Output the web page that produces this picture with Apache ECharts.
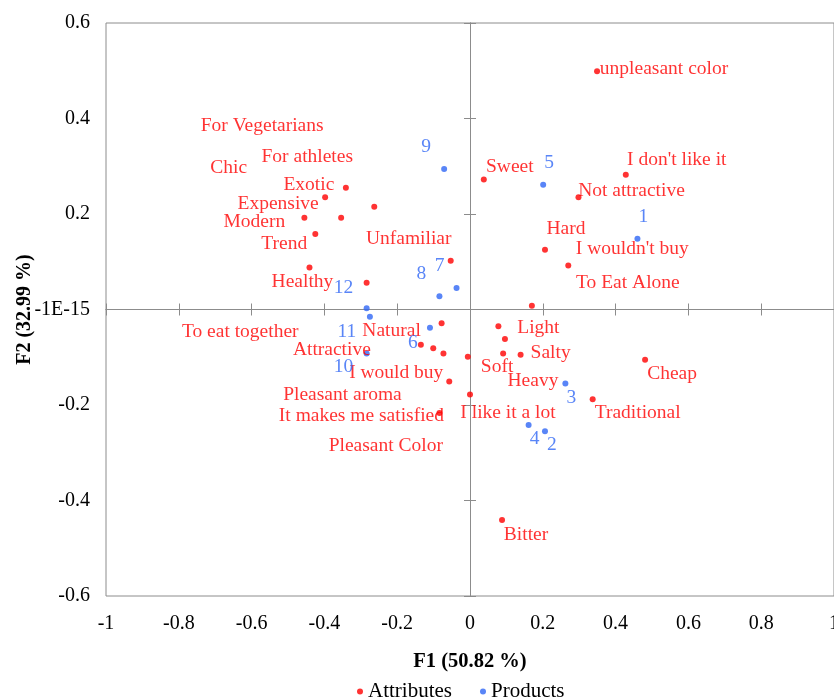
<!DOCTYPE html>
<html>
<head>
<meta charset="utf-8">
<title>F1 / F2 map</title>
<script src="https://cdn.jsdelivr.net/npm/echarts@6/dist/echarts.min.js"></script>
<style>
  html, body { margin: 0; padding: 0; background: #fff; }
  #chart { width: 834px; height: 698px; }
</style>
</head>
<body>
<div id="chart"></div>
<script>
// attributes (red)
const attrNames = [
  'unpleasant color', "I don't like it", 'Not attractive', 'Sweet', 'Hard', "I wouldn't buy", 'To Eat Alone',
  'For Vegetarians', 'Chic', 'For athletes', 'Exotic', 'Expensive', 'Modern', 'Trend', 'Unfamiliar', 'Healthy',
  'To eat together', 'Natural', 'Attractive', 'I would buy', 'Pleasant aroma', 'It makes me satisfied', 'Pleasant Color',
  'Light', 'Salty', 'Soft', 'Heavy', 'I like it a lot', 'Cheap', 'Traditional', 'Bitter'
];
const attrF1 = [
  0.349, 0.428, 0.298, 0.038, 0.206, 0.270, 0.170,
  -0.354, -0.284, -0.263, -0.341, -0.398, -0.455, -0.425, -0.053, -0.441,
  -0.101, -0.078, -0.135, -0.057, -0.073, -0.084, -0.006,
  0.078, 0.139, 0.091, 0.096, 0.000, 0.481, 0.337, 0.088
];
const attrF2 = [
  0.499, 0.282, 0.235, 0.272, 0.125, 0.092, 0.008,
  0.192, 0.056, 0.215, 0.255, 0.235, 0.192, 0.158, 0.102, 0.088,
  -0.081, -0.029, -0.074, -0.151, -0.092, -0.217, -0.099,
  -0.035, -0.095, -0.092, -0.062, -0.178, -0.105, -0.188, -0.441
];

// products (blue)
const prodNames = ['1', '2', '3', '4', '5', '6', '7', '8', '9', '10', '11', '12'];
const prodF1 = [0.460, 0.206, 0.262, 0.161, 0.201, -0.110, -0.037, -0.084, -0.071, -0.284, -0.275, -0.284];
const prodF2 = [0.148, -0.255, -0.155, -0.242, 0.261, -0.038, 0.045, 0.028, 0.294, -0.092, -0.015, 0.0025];

// label placement (px shift of label centre from its point)
const labelShift = {
  'unpleasant color': [67, -2], "I don't like it": [51, -15], 'Not attractive': [53, -6],
  'Sweet': [26, -13], 'Hard': [21, -21], "I wouldn't buy": [64, -17], 'To Eat Alone': [96, -23],
  'For Vegetarians': [-79, -92], 'Chic': [-138, -115], 'For athletes': [-67, -50],
  'Exotic': [-37, -3], 'Expensive': [-47, 7], 'Modern': [-50, 4], 'Trend': [-31, 10],
  'Unfamiliar': [-42, -22], 'Healthy': [-7, 14],
  'To eat together': [-193, -16], 'Natural': [-50, 8], 'Attractive': [-89, 5], 'I would buy': [-53, -9],
  'Pleasant aroma': [-101, 41], 'It makes me satisfied': [-78, 3], 'Pleasant Color': [-82, 89],
  'Light': [40, 2], 'Salty': [30, -2], 'Soft': [-6, 13], 'Heavy': [28, 42], 'I like it a lot': [38, 18],
  'Cheap': [27, 14], 'Traditional': [45, 14], 'Bitter': [24, 15],
  '1': [6, -22], '2': [7, 14], '3': [6, 14], '4': [6, 14], '5': [6, -22], '6': [-17, 15],
  '7': [-17, -22], '8': [-18, -22], '9': [-18, -22], '10': [-23, 13], '11': [-23, 15], '12': [-23, -20]
};

const FONT = "'Liberation Serif', 'Times New Roman', serif";
const RED = '#ff0000';
const BLUE = '#2f66f5';
const GREY = '#8c8c8c';

function points(names, xs, ys) {
  return names.map((n, i) => ({
    name: n,
    value: [xs[i], ys[i]],
    label: { offset: labelShift[n] || [0, 0] }
  }));
}

const gridBox = { left: 106, right: 0, top: 23, bottom: 102, outerBoundsMode: 'none', containLabel: false };

// axes crossing at zero: one set of ticks each side
function zeroAxis(dim, gridIndex, position) {
  const isX = dim === 'x';
  return {
    gridIndex: gridIndex,
    type: 'value',
    position: position,
    min: isX ? -1 : -0.6,
    max: isX ? 1 : 0.6,
    interval: 0.2,
    axisLine: { show: true, onZero: true, lineStyle: { color: GREY, width: 1 } },
    axisTick: { show: true, inside: true, length: 6, lineStyle: { color: GREY } },
    axisLabel: { show: false },
    splitLine: { show: false }
  };
}

const chart = echarts.init(document.getElementById('chart'));
chart.setOption({
  animation: false,
  textStyle: { fontFamily: FONT },
  grid: [
    Object.assign({ show: true, borderColor: GREY, borderWidth: 1 }, gridBox),
    Object.assign({ show: false }, gridBox)
  ],
  xAxis: [
    {
      gridIndex: 0, type: 'value', position: 'bottom', min: -1, max: 1, interval: 0.2,
      axisLine: { show: false, onZero: false },
      axisTick: { show: false },
      splitLine: { show: false },
      axisLabel: { color: '#000', fontSize: 20, fontFamily: FONT, margin: 18 },
      name: 'F1 (50.82 %)', nameLocation: 'middle', nameGap: 55, nameMoveOverlap: false,
      nameTextStyle: { color: '#000', fontSize: 20.5, fontWeight: 'bold', fontFamily: FONT }
    },
    zeroAxis('x', 0, 'top'),
    zeroAxis('x', 1, 'bottom')
  ],
  yAxis: [
    {
      gridIndex: 0, type: 'value', position: 'left', min: -0.6, max: 0.6, interval: 0.2,
      axisLine: { show: false, onZero: false },
      axisTick: { show: false },
      splitLine: { show: false },
      axisLabel: {
        color: '#000', fontSize: 20, fontFamily: FONT, margin: 16,
        formatter: v => (Math.abs(v) < 1e-9 ? '-1E-15' : String(+v.toFixed(1)))
      },
      name: 'F2 (32.99 %)', nameLocation: 'middle', nameGap: 71, nameMoveOverlap: false,
      nameTextStyle: { color: '#000', fontSize: 20, fontWeight: 'bold', fontFamily: FONT }
    },
    zeroAxis('y', 0, 'right'),
    zeroAxis('y', 1, 'left')
  ],
  legend: {
    data: ['Attributes', 'Products'],
    left: 352, top: 676,
    icon: 'circle', itemWidth: 6, itemHeight: 6, itemGap: 28,
    textStyle: { color: '#000', fontSize: 21, fontFamily: FONT }
  },
  series: [
    {
      name: 'Attributes', type: 'scatter', xAxisIndex: 0, yAxisIndex: 0,
      symbol: 'circle', symbolSize: 6,
      itemStyle: { color: RED },
      label: {
        show: true, position: 'inside', formatter: '{b}',
        color: RED, fontSize: 19.5, fontFamily: FONT
      },
      data: points(attrNames, attrF1, attrF2)
    },
    {
      name: 'Products', type: 'scatter', xAxisIndex: 0, yAxisIndex: 0,
      symbol: 'circle', symbolSize: 6,
      itemStyle: { color: BLUE },
      label: {
        show: true, position: 'inside', formatter: '{b}',
        color: BLUE, fontSize: 19.5, fontFamily: FONT
      },
      data: points(prodNames, prodF1, prodF2)
    }
  ]
});
</script>
</body>
</html>
